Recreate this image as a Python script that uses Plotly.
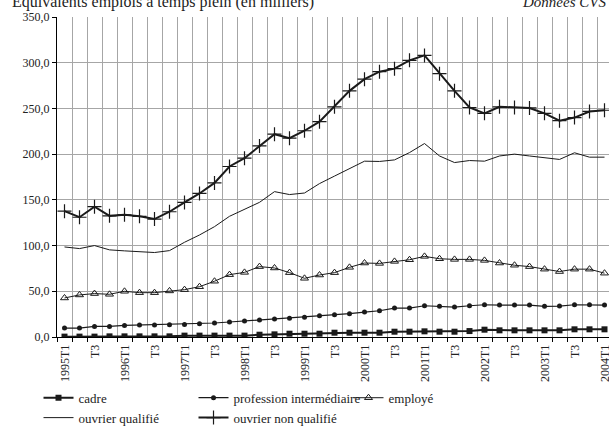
import plotly.graph_objects as go

quarters = []
for yr in range(1995, 2005):
    for q in range(1, 5):
        quarters.append(f"{yr}T{q}")
quarters = quarters[:37]

tick_labels = [q if q.endswith("T1") else "T3" for q in quarters[::2]]

cadre = [0.4, 0.4, 0.4, 0.7, 0.7, 0.7, 0.7, 0.7, 1.5, 1.5, 1.5, 1.5, 1.5, 2.5, 2.9, 3.6,
         3.6, 3.6, 4.7, 4.7, 4.7, 4.7, 5.8, 5.8, 6.2, 5.8, 5.8, 6.5, 8.0, 7.3, 7.3, 7.3,
         7.3, 7.3, 8.4, 8.4, 8.4]
prof_inter = [9.8, 9.8, 11.6, 11.6, 12.7, 13.1, 13.1, 13.5, 13.8, 14.5, 15.3, 16.4, 17.5,
              18.5, 19.6, 20.4, 21.5, 23.3, 24.4, 25.5, 27.3, 28.7, 31.6, 31.6, 34.2, 33.5,
              32.7, 34.2, 35.3, 34.9, 34.9, 34.9, 33.5, 33.8, 35.3, 35.3, 34.9]
employe = [42.7, 46.0, 47.5, 46.7, 50.0, 48.5, 48.5, 50.4, 51.8, 55.0, 61.0, 68.2, 70.7,
           77.0, 75.5, 70.4, 64.2, 67.8, 70.4, 76.2, 80.9, 80.5, 82.7, 84.5, 88.2, 85.6,
           84.9, 84.9, 83.8, 80.9, 78.5, 77.0, 74.2, 71.6, 74.2, 74.2, 69.8]
ouvrier_q = [98.5, 96.7, 100.0, 95.3, 94.2, 93.5, 92.4, 94.5, 103.6, 111.6, 120.7, 132.0,
             140.0, 147.3, 159.0, 155.8, 157.5, 167.8, 176.0, 184.0, 192.3, 192.0, 193.7,
             201.7, 211.6, 198.0, 190.8, 193.0, 192.3, 198.0, 200.0, 198.0, 196.4, 194.2,
             201.5, 196.7, 196.7]
ouvrier_nq = [137.6, 131.0, 142.5, 132.5, 133.6, 132.0, 129.0, 137.0, 147.2, 157.0, 168.5,
              186.5, 195.6, 209.0, 221.8, 217.5, 225.6, 235.5, 251.8, 269.2, 282.0, 290.2,
              293.5, 302.6, 308.0, 288.0, 269.2, 251.0, 244.6, 251.8, 251.0, 250.5, 244.6,
              236.6, 240.0, 246.7, 248.0]

xs = list(range(len(quarters)))
FONT = "Liberation Serif"
INK = "#1a1a1a"

fig = go.Figure()
fig.add_trace(go.Scatter(x=xs, y=cadre, name="cadre", mode="lines+markers",
                         line=dict(color=INK, width=2),
                         marker=dict(symbol="square", size=6, color=INK)))
fig.add_trace(go.Scatter(x=xs, y=prof_inter, name="profession intermédiaire", mode="lines+markers",
                         line=dict(color=INK, width=1.2),
                         marker=dict(symbol="circle", size=5, color=INK)))
fig.add_trace(go.Scatter(x=xs, y=employe, name="employé", mode="lines+markers",
                         line=dict(color=INK, width=1),
                         marker=dict(symbol="triangle-up-open", size=7, color=INK, line=dict(width=1))))
fig.add_trace(go.Scatter(x=xs, y=ouvrier_q, name="ouvrier qualifié", mode="lines",
                         line=dict(color=INK, width=1)))
fig.add_trace(go.Scatter(x=xs, y=ouvrier_nq, name="ouvrier non qualifié", mode="lines+markers",
                         line=dict(color=INK, width=2),
                         marker=dict(symbol="cross-thin", size=10, color=INK, line=dict(width=1.2, color=INK))))

fig.update_layout(
    width=609, height=439,
    margin=dict(l=57, r=0, t=17, b=102),
    paper_bgcolor="white", plot_bgcolor="white",
    separators=", ",
    font=dict(family=FONT, size=12, color="#222"),
    showlegend=True,
    legend=dict(orientation="h", x=-0.0335, xanchor="left", y=-0.143, yanchor="top",
                entrywidth=110, entrywidthmode="pixels", itemwidth=30,
                font=dict(family=FONT, size=13, color="#222"), bgcolor="rgba(0,0,0,0)"),
    xaxis=dict(range=[-0.5, 36.3], tickmode="array", tickvals=xs[::2], showticklabels=False,
               showgrid=False, showline=True, linecolor="black", linewidth=1,
               ticks="", zeroline=False,
               minor=dict(tick0=0.5, dtick=1, showgrid=True, gridcolor="#a6a6a6", gridwidth=1,
                          ticks="outside", ticklen=4, tickcolor="black")),
    yaxis=dict(range=[0, 350], dtick=50, tickformat=".1f", showgrid=True, gridcolor="#a6a6a6",
               gridwidth=1, showline=True, linecolor="black", linewidth=1, ticks="outside",
               ticklen=4, tickcolor="black", zeroline=False,
               tickfont=dict(family=FONT, size=12, color="#222")),
)

# x tick labels (rotated) as text anchored on the category positions
for xv, lab in zip(xs[::2], tick_labels):
    fig.add_annotation(text=lab, x=xv, xref="x", y=-0.022, yref="paper",
                       xanchor="center", yanchor="top", textangle=-90, showarrow=False,
                       borderpad=0, font=dict(family=FONT, size=12, color="#222"))

fig.add_annotation(text="Équivalents emplois à temps plein (en milliers)", xref="paper", yref="paper",
                   x=-0.0855, y=1.047, xanchor="left", yanchor="middle", showarrow=False,
                   font=dict(family=FONT, size=16, color="#222"))
fig.add_annotation(text="<i>Données CVS</i>", xref="paper", yref="paper",
                   x=0.999, y=1.047, xanchor="right", yanchor="middle", showarrow=False,
                   font=dict(family=FONT, size=15, color="#222"))

fig.write_html("out.html", config={"displayModeBar": False},
               post_script="document.body.style.margin='0';")
